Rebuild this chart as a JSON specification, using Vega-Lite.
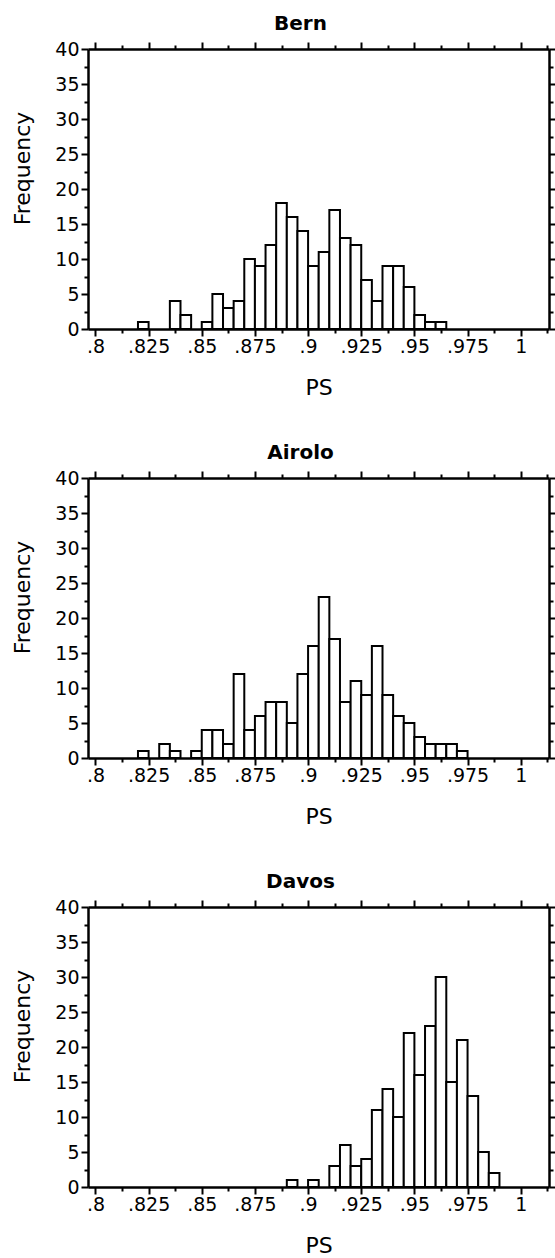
{
  "$schema": "https://vega.github.io/schema/vega-lite/v6.json",
  "padding": {"left": 11, "top": 14, "right": 0, "bottom": 0},
  "background": "white",
  "datasets": {
    "bern": [
      {"lo":0.820,"hi":0.825,"n":1},{"lo":0.835,"hi":0.840,"n":4},{"lo":0.840,"hi":0.845,"n":2},
      {"lo":0.850,"hi":0.855,"n":1},{"lo":0.855,"hi":0.860,"n":5},{"lo":0.860,"hi":0.865,"n":3},
      {"lo":0.865,"hi":0.870,"n":4},{"lo":0.870,"hi":0.875,"n":10},{"lo":0.875,"hi":0.880,"n":9},
      {"lo":0.880,"hi":0.885,"n":12},{"lo":0.885,"hi":0.890,"n":18},{"lo":0.890,"hi":0.895,"n":16},
      {"lo":0.895,"hi":0.900,"n":14},{"lo":0.900,"hi":0.905,"n":9},{"lo":0.905,"hi":0.910,"n":11},
      {"lo":0.910,"hi":0.915,"n":17},{"lo":0.915,"hi":0.920,"n":13},{"lo":0.920,"hi":0.925,"n":12},
      {"lo":0.925,"hi":0.930,"n":7},{"lo":0.930,"hi":0.935,"n":4},{"lo":0.935,"hi":0.940,"n":9},
      {"lo":0.940,"hi":0.945,"n":9},{"lo":0.945,"hi":0.950,"n":6},{"lo":0.950,"hi":0.955,"n":2},
      {"lo":0.955,"hi":0.960,"n":1},{"lo":0.960,"hi":0.965,"n":1}
    ],
    "airolo": [
      {"lo":0.820,"hi":0.825,"n":1},{"lo":0.830,"hi":0.835,"n":2},{"lo":0.835,"hi":0.840,"n":1},
      {"lo":0.845,"hi":0.850,"n":1},{"lo":0.850,"hi":0.855,"n":4},{"lo":0.855,"hi":0.860,"n":4},
      {"lo":0.860,"hi":0.865,"n":2},{"lo":0.865,"hi":0.870,"n":12},{"lo":0.870,"hi":0.875,"n":4},
      {"lo":0.875,"hi":0.880,"n":6},{"lo":0.880,"hi":0.885,"n":8},{"lo":0.885,"hi":0.890,"n":8},
      {"lo":0.890,"hi":0.895,"n":5},{"lo":0.895,"hi":0.900,"n":12},{"lo":0.900,"hi":0.905,"n":16},
      {"lo":0.905,"hi":0.910,"n":23},{"lo":0.910,"hi":0.915,"n":17},{"lo":0.915,"hi":0.920,"n":8},
      {"lo":0.920,"hi":0.925,"n":11},{"lo":0.925,"hi":0.930,"n":9},{"lo":0.930,"hi":0.935,"n":16},
      {"lo":0.935,"hi":0.940,"n":9},{"lo":0.940,"hi":0.945,"n":6},{"lo":0.945,"hi":0.950,"n":5},
      {"lo":0.950,"hi":0.955,"n":3},{"lo":0.955,"hi":0.960,"n":2},{"lo":0.960,"hi":0.965,"n":2},
      {"lo":0.965,"hi":0.970,"n":2},{"lo":0.970,"hi":0.975,"n":1}
    ],
    "davos": [
      {"lo":0.890,"hi":0.895,"n":1},{"lo":0.900,"hi":0.905,"n":1},{"lo":0.910,"hi":0.915,"n":3},
      {"lo":0.915,"hi":0.920,"n":6},{"lo":0.920,"hi":0.925,"n":3},{"lo":0.925,"hi":0.930,"n":4},
      {"lo":0.930,"hi":0.935,"n":11},{"lo":0.935,"hi":0.940,"n":14},{"lo":0.940,"hi":0.945,"n":10},
      {"lo":0.945,"hi":0.950,"n":22},{"lo":0.950,"hi":0.955,"n":16},{"lo":0.955,"hi":0.960,"n":23},
      {"lo":0.960,"hi":0.965,"n":30},{"lo":0.965,"hi":0.970,"n":15},{"lo":0.970,"hi":0.975,"n":21},
      {"lo":0.975,"hi":0.980,"n":13},{"lo":0.980,"hi":0.985,"n":5},{"lo":0.985,"hi":0.990,"n":2}
    ]
  },
  "bounds": "flush",
  "spacing": 149,
  "vconcat": [
    {
      "title": {"text": "Bern", "frame": "group", "dx": -18, "baseline": "alphabetic", "offset": -10},
      "width": 461, "height": 280,
      "data": {"name": "bern"},
      "layer": [
        {
          "mark": {"type": "bar", "fill": "white", "stroke": "black", "strokeWidth": 2},
          "encoding": {
            "x": {"field": "lo", "type": "quantitative", "scale": {"domain": [0.7965, 1.0133], "nice": false, "zero": false},
              "axis": {"orient": "bottom", "title": "PS", "titlePadding": 21, "labelPadding": 1, "values": [0.8,0.8125,0.825,0.8375,0.85,0.8625,0.875,0.8875,0.9,0.9125,0.925,0.9375,0.95,0.9625,0.975,0.9875,1,1.0125],
                "labelExpr": "abs(datum.value*40 - round(datum.value*40)) < 0.001 ? (datum.value < 1 ? substring(format(datum.value, '.3~f'), 1) : format(datum.value, '.3~f')) : ''",
                "tickSize": {"condition": {"test": "abs(datum.value*40 - round(datum.value*40)) < 0.001", "value": 7}, "value": 4}}},
            "x2": {"field": "hi"},
            "y": {"field": "n", "type": "quantitative", "scale": {"domain": [0, 40], "nice": false},
              "axis": {"orient": "left", "title": "Frequency", "titleY": 119, "titlePadding": 20, "values": [0,2.5,5,7.5,10,12.5,15,17.5,20,22.5,25,27.5,30,32.5,35,37.5,40],
                "labelExpr": "datum.value % 5 == 0 ? datum.label : ''",
                "tickSize": {"condition": {"test": "datum.value % 5 == 0", "value": 7}, "value": 4}}},
            "y2": {"datum": 0}
          }
        },
        {
          "mark": {"type": "bar", "opacity": 0},
          "encoding": {
            "x": {"field": "lo", "type": "quantitative", "scale": {"domain": [0.7965, 1.0133], "nice": false, "zero": false},
              "axis": {"orient": "top", "title": null, "labels": false, "values": [0.8,0.8125,0.825,0.8375,0.85,0.8625,0.875,0.8875,0.9,0.9125,0.925,0.9375,0.95,0.9625,0.975,0.9875,1,1.0125],
                "tickSize": {"condition": {"test": "abs(datum.value*40 - round(datum.value*40)) < 0.001", "value": 7}, "value": 4}}},
            "x2": {"field": "hi"},
            "y": {"field": "n", "type": "quantitative", "scale": {"domain": [0, 40], "nice": false},
              "axis": {"orient": "right", "title": null, "labels": false, "values": [0,2.5,5,7.5,10,12.5,15,17.5,20,22.5,25,27.5,30,32.5,35,37.5,40],
                "tickSize": {"condition": {"test": "datum.value % 5 == 0", "value": 7}, "value": 4}}},
            "y2": {"datum": 0}
          }
        }
      ],
      "resolve": {"axis": {"x": "independent", "y": "independent"}}
    },
    {
      "title": {"text": "Airolo", "frame": "group", "dx": -18, "baseline": "alphabetic", "offset": -10},
      "width": 461, "height": 280,
      "data": {"name": "airolo"},
      "layer": [
        {
          "mark": {"type": "bar", "fill": "white", "stroke": "black", "strokeWidth": 2},
          "encoding": {
            "x": {"field": "lo", "type": "quantitative", "scale": {"domain": [0.7965, 1.0133], "nice": false, "zero": false},
              "axis": {"orient": "bottom", "title": "PS", "titlePadding": 21, "labelPadding": 1, "values": [0.8,0.8125,0.825,0.8375,0.85,0.8625,0.875,0.8875,0.9,0.9125,0.925,0.9375,0.95,0.9625,0.975,0.9875,1,1.0125],
                "labelExpr": "abs(datum.value*40 - round(datum.value*40)) < 0.001 ? (datum.value < 1 ? substring(format(datum.value, '.3~f'), 1) : format(datum.value, '.3~f')) : ''",
                "tickSize": {"condition": {"test": "abs(datum.value*40 - round(datum.value*40)) < 0.001", "value": 7}, "value": 4}}},
            "x2": {"field": "hi"},
            "y": {"field": "n", "type": "quantitative", "scale": {"domain": [0, 40], "nice": false},
              "axis": {"orient": "left", "title": "Frequency", "titleY": 119, "titlePadding": 20, "values": [0,2.5,5,7.5,10,12.5,15,17.5,20,22.5,25,27.5,30,32.5,35,37.5,40],
                "labelExpr": "datum.value % 5 == 0 ? datum.label : ''",
                "tickSize": {"condition": {"test": "datum.value % 5 == 0", "value": 7}, "value": 4}}},
            "y2": {"datum": 0}
          }
        },
        {
          "mark": {"type": "bar", "opacity": 0},
          "encoding": {
            "x": {"field": "lo", "type": "quantitative", "scale": {"domain": [0.7965, 1.0133], "nice": false, "zero": false},
              "axis": {"orient": "top", "title": null, "labels": false, "values": [0.8,0.8125,0.825,0.8375,0.85,0.8625,0.875,0.8875,0.9,0.9125,0.925,0.9375,0.95,0.9625,0.975,0.9875,1,1.0125],
                "tickSize": {"condition": {"test": "abs(datum.value*40 - round(datum.value*40)) < 0.001", "value": 7}, "value": 4}}},
            "x2": {"field": "hi"},
            "y": {"field": "n", "type": "quantitative", "scale": {"domain": [0, 40], "nice": false},
              "axis": {"orient": "right", "title": null, "labels": false, "values": [0,2.5,5,7.5,10,12.5,15,17.5,20,22.5,25,27.5,30,32.5,35,37.5,40],
                "tickSize": {"condition": {"test": "datum.value % 5 == 0", "value": 7}, "value": 4}}},
            "y2": {"datum": 0}
          }
        }
      ],
      "resolve": {"axis": {"x": "independent", "y": "independent"}}
    },
    {
      "title": {"text": "Davos", "frame": "group", "dx": -18, "baseline": "alphabetic", "offset": -10},
      "width": 461, "height": 280,
      "data": {"name": "davos"},
      "layer": [
        {
          "mark": {"type": "bar", "fill": "white", "stroke": "black", "strokeWidth": 2},
          "encoding": {
            "x": {"field": "lo", "type": "quantitative", "scale": {"domain": [0.7965, 1.0133], "nice": false, "zero": false},
              "axis": {"orient": "bottom", "title": "PS", "titlePadding": 21, "labelPadding": 1, "values": [0.8,0.8125,0.825,0.8375,0.85,0.8625,0.875,0.8875,0.9,0.9125,0.925,0.9375,0.95,0.9625,0.975,0.9875,1,1.0125],
                "labelExpr": "abs(datum.value*40 - round(datum.value*40)) < 0.001 ? (datum.value < 1 ? substring(format(datum.value, '.3~f'), 1) : format(datum.value, '.3~f')) : ''",
                "tickSize": {"condition": {"test": "abs(datum.value*40 - round(datum.value*40)) < 0.001", "value": 7}, "value": 4}}},
            "x2": {"field": "hi"},
            "y": {"field": "n", "type": "quantitative", "scale": {"domain": [0, 40], "nice": false},
              "axis": {"orient": "left", "title": "Frequency", "titleY": 119, "titlePadding": 20, "values": [0,2.5,5,7.5,10,12.5,15,17.5,20,22.5,25,27.5,30,32.5,35,37.5,40],
                "labelExpr": "datum.value % 5 == 0 ? datum.label : ''",
                "tickSize": {"condition": {"test": "datum.value % 5 == 0", "value": 7}, "value": 4}}},
            "y2": {"datum": 0}
          }
        },
        {
          "mark": {"type": "bar", "opacity": 0},
          "encoding": {
            "x": {"field": "lo", "type": "quantitative", "scale": {"domain": [0.7965, 1.0133], "nice": false, "zero": false},
              "axis": {"orient": "top", "title": null, "labels": false, "values": [0.8,0.8125,0.825,0.8375,0.85,0.8625,0.875,0.8875,0.9,0.9125,0.925,0.9375,0.95,0.9625,0.975,0.9875,1,1.0125],
                "tickSize": {"condition": {"test": "abs(datum.value*40 - round(datum.value*40)) < 0.001", "value": 7}, "value": 4}}},
            "x2": {"field": "hi"},
            "y": {"field": "n", "type": "quantitative", "scale": {"domain": [0, 40], "nice": false},
              "axis": {"orient": "right", "title": null, "labels": false, "values": [0,2.5,5,7.5,10,12.5,15,17.5,20,22.5,25,27.5,30,32.5,35,37.5,40],
                "tickSize": {"condition": {"test": "datum.value % 5 == 0", "value": 7}, "value": 4}}},
            "y2": {"datum": 0}
          }
        }
      ],
      "resolve": {"axis": {"x": "independent", "y": "independent"}}
    }
  ],
  "config": {
    "view": {"stroke": null},
    "font": "DejaVu Sans",
    "title": {"font": "DejaVu Sans", "fontSize": 20, "fontWeight": "bold", "color": "black"},
    "axis": {
      "grid": false, "zindex": 1,
      "domainColor": "black", "domainWidth": 2.5,
      "tickColor": "black", "tickWidth": 2,
      "labelFont": "DejaVu Sans", "labelFontSize": 19, "labelColor": "black", "labelPadding": 2,
      "labelOverlap": false, "labelFlush": false, "labelBound": false,
      "titleFont": "DejaVu Sans", "titleFontSize": 22, "titleFontWeight": "normal", "titleColor": "black"
    }
  }
}
